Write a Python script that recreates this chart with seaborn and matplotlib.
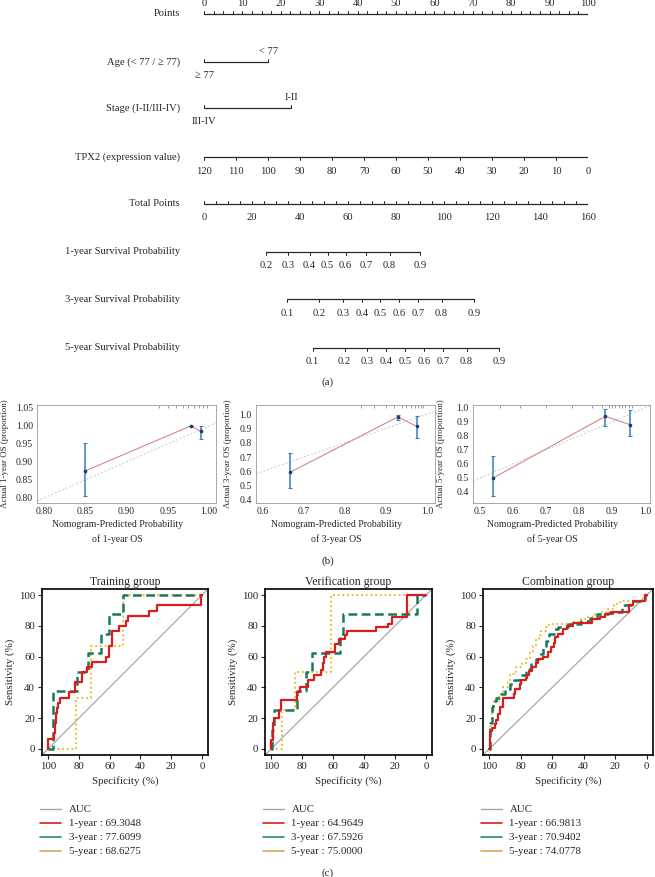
import numpy as np
import matplotlib.pyplot as plt
from matplotlib.lines import Line2D
import seaborn as sns

# ---------------- data ----------------
# (a) nomogram
points_ticks = list(range(0, 101, 10))
age_labels = ["≥ 77", "< 77"]
age_points = [0, 16.7]
stage_labels = ["III-IV", "I-II"]
stage_points = [0, 22.7]
tpx2_ticks = list(range(120, -1, -10))
total_ticks = list(range(0, 161, 20))
surv1_labels = ["0.2", "0.3", "0.4", "0.5", "0.6", "0.7", "0.8", "0.9"]
surv1_total = [26, 35, 44, 51.5, 59, 67.4, 77.3, 90.2]
surv3_labels = ["0.1", "0.2", "0.3", "0.4", "0.5", "0.6", "0.7", "0.8", "0.9"]
surv3_total = [34.7, 48, 57.8, 65.8, 73.4, 81.3, 89.1, 99, 112.5]
surv5_labels = ["0.1", "0.2", "0.3", "0.4", "0.5", "0.6", "0.7", "0.8", "0.9"]
surv5_total = [45.3, 58.6, 68, 76, 83.8, 91.7, 99.7, 109.4, 122.9]

# (b) calibration
cal1_pred = [0.85, 0.978, 0.99]
cal1_obs = [0.875, 1.0, 0.985]
cal1_lo = [0.805, 1.0, 0.963]
cal1_hi = [0.952, 1.0, 1.0]
cal1_rug = [0.94, 0.95, 0.96, 0.968, 0.975, 0.982, 0.988, 0.993, 0.997]

cal3_pred = [0.667, 0.929, 0.975]
cal3_obs = [0.595, 0.98, 0.913]
cal3_lo = [0.485, 0.96, 0.83]
cal3_hi = [0.73, 0.995, 0.986]
cal3_rug = [0.84, 0.87, 0.9, 0.92, 0.94, 0.95, 0.96, 0.97, 0.978, 0.985, 0.99]

cal5_pred = [0.54, 0.88, 0.955]
cal5_obs = [0.5, 0.94, 0.88]
cal5_lo = [0.37, 0.87, 0.8]
cal5_hi = [0.655, 0.995, 0.985]
cal5_rug = [0.56, 0.62, 0.7, 0.78, 0.84, 0.87, 0.89, 0.9, 0.91, 0.92, 0.93, 0.94, 0.95, 0.96]

# (c) ROC curves (specificity %, sensitivity %), step vertices
tr1_spec = [100, 99.8, 96.2, 95.6, 95, 94.2, 93.3, 92, 86.2, 82.3, 78.1, 74.9, 71.7, 62.1, 60.6,
            58.3, 53.6, 49.4, 48.3, 34.5, 29.1, 0.4, 0]
tr1_sens = [0, 6.7, 10, 16.7, 23.3, 26.7, 30, 33.3, 36.7, 43.3, 50, 53.3, 56.7, 60, 66.7,
            76.7, 80, 83.3, 86.7, 90, 93.3, 100, 100]
tr3_spec = [100, 96.6, 81.3, 73.8, 65.3, 60.6, 51.5, 0]
tr3_sens = [0, 37.5, 50, 62.5, 75, 87.5, 100, 100]
tr5_spec = [100, 81.7, 72, 51.5, 0]
tr5_sens = [0, 33.3, 66.7, 100, 100]

ve1_spec = [100, 99.9, 99, 98.7, 98, 95, 93.5, 83.2, 81.5, 76.3, 72.5, 68, 66.5, 65.6, 64.3,
            58.5, 56.3, 52, 51, 32, 24.7, 22, 12.3, 0]
ve1_sens = [0, 5.6, 11, 17, 20, 25, 31.7, 37, 40, 45, 48, 51.5, 56, 60, 63,
            68, 71.5, 74, 77, 79, 81.5, 86, 100, 100]
ve3_spec = [100, 99.5, 98, 83.2, 77.2, 73.5, 55.7, 53.5, 5.4, 0]
ve3_sens = [0, 12.5, 25, 37.5, 50, 62.5, 75, 87.5, 100, 100]
ve5_spec = [100, 93, 84.7, 61, 0]
ve5_sens = [0, 25, 50, 100, 100]

co1_spec = [100, 99.6, 98.5, 96.3, 95.7, 94.2, 93.1, 91.4, 84.5, 83.9, 80.2, 79.8, 77, 76.3,
            74.8, 72.7, 70.5, 68.8, 66.2, 63, 60.9, 59.1, 58.3, 56.1, 53.3, 50.5, 46.9, 34.6,
            29.7, 26.5, 22.6, 11, 8.8, 1.3, 0]
co1_sens = [0, 11.4, 13.5, 16, 19, 23, 27.5, 33, 36, 39, 42, 44.6, 46, 48,
            50.6, 53, 56, 58.6, 60, 63, 66, 69, 72.5, 75, 78, 80, 82, 84.3,
            86, 87.5, 89, 93.5, 96, 100, 100]
co3_spec = [100, 99.6, 98.5, 97.5, 95.5, 93, 90, 87, 84.5, 80.2, 77, 73.8, 70.5, 68.4, 66.2,
            64, 62, 58.7, 56.6, 50, 41.5, 36, 31.8, 24.3, 20, 15.7, 9.2, 1.3, 0]
co3_sens = [0, 17, 27.5, 31, 33, 36, 39, 42, 44.6, 48, 52, 55, 58.6, 61.8, 66,
            70.4, 74.7, 78, 79, 81.5, 83.3, 85.4, 87.5, 88.6, 89.3, 93.5, 96.5, 100, 100]
co5_spec = [100, 99.4, 98.5, 97, 94, 91, 88, 86.7, 83, 79, 77, 74, 72, 70.5, 68.5, 67.3, 64,
            62, 56.6, 46, 42, 37, 33, 29.7, 25, 21, 19, 16, 1.5, 0]
co5_sens = [0, 15, 25, 31, 36, 40.5, 44.6, 49, 53, 56, 58.6, 63, 67, 71.5, 74, 76.8, 79,
            81, 81.5, 82.5, 84.3, 86, 87.5, 89, 91, 93.5, 95.7, 96.5, 100, 100]

roc_titles = ["Training group", "Verification group", "Combination group"]
auc_1y = ["69.3048", "64.9649", "66.9813"]
auc_3y = ["77.6099", "67.5926", "70.9402"]
auc_5y = ["68.6275", "75.0000", "74.0778"]

# ---------------- style ----------------
sns.set_style("white")
plt.rcParams['font.family'] = ['Liberation Serif', 'DejaVu Serif']
plt.rcParams['axes.unicode_minus'] = False

W, H = 655, 877
fig = plt.figure(figsize=(W / 100, H / 100), dpi=100)


def px_axes(left, top, right, bottom):
    return fig.add_axes([left / W, 1 - bottom / H, (right - left) / W, (bottom - top) / H])


ink = "#262626"
fs = 7.6

# ---------------- (a) nomogram ----------------
nom = px_axes(204, 0, 588, 390)
nom.set_xlim(0, 100)
nom.set_ylim(390, 0)
nom.axis("off")

row_y = [14, 62, 108, 157, 204, 252, 299, 348]
row_names = ["Points", "Age (< 77 / ≥ 77)", "Stage (I-II/III-IV)", "TPX2 (expression value)",
             "Total Points", "1-year Survival Probability", "3-year Survival Probability",
             "5-year Survival Probability"]
for y, name in zip(row_y, row_names):
    nom.text(-6.3, y, name, ha="right", va="center", fontsize=fs, color=ink)


def scale_row(y, ticks, labels, minor=None, up=False, lab_dy=13):
    d = -3 if up else 3
    nom.plot([min(ticks), max(ticks)], [y, y], color=ink, lw=0.9)
    for t in (minor if minor is not None else ticks):
        nom.plot([t, t], [y, y + d], color=ink, lw=0.7)
    for t, lab in zip(ticks, labels):
        nom.text(t, y + (-lab_dy if up else lab_dy), lab, ha="center", va="center",
                 fontsize=fs, color=ink)


# Points
scale_row(row_y[0], points_ticks, [str(p) for p in points_ticks],
          minor=list(np.arange(0, 100.1, 2.5)), up=True, lab_dy=10)
# Age / Stage
for y, pts, labs in [(row_y[1], age_points, age_labels), (row_y[2], stage_points, stage_labels)]:
    nom.plot(pts, [y, y], color=ink, lw=0.9)
    for p in pts:
        nom.plot([p, p], [y, y - 3], color=ink, lw=0.7)
    nom.text(pts[1], y - 11, labs[1], ha="center", va="center", fontsize=fs, color=ink)
    nom.text(pts[0], y + 13, labs[0], ha="center", va="center", fontsize=fs, color=ink)
# TPX2
tpx2_pts = [(120 - v) * 100 / 120 for v in tpx2_ticks]
scale_row(row_y[3], tpx2_pts, [str(v) for v in tpx2_ticks], lab_dy=14)
# Total points
tot_pts = [v * 100 / 160 for v in total_ticks]
tot_minor = [v * 100 / 160 for v in range(0, 161, 5)]
scale_row(row_y[4], tot_pts, [str(v) for v in total_ticks], minor=tot_minor, up=True, lab_dy=-14)
# survival probabilities
for y, tot, labs in [(row_y[5], surv1_total, surv1_labels),
                     (row_y[6], surv3_total, surv3_labels),
                     (row_y[7], surv5_total, surv5_labels)]:
    scale_row(y, [v * 100 / 160 for v in tot], labs, lab_dy=14)

fig.text(328 / W, 1 - 382 / H, "(a)", ha="center", va="center", fontsize=8, color=ink)

# ---------------- (b) calibration ----------------
cal_panels = [
    (37, 216, cal1_pred, cal1_obs, cal1_lo, cal1_hi, cal1_rug, (0.7915, 1.0085), (0.786, 1.058),
     [0.80, 0.85, 0.90, 0.95, 1.00], [0.80, 0.85, 0.90, 0.95, 1.00, 1.05], "%.2f", "1", -0.158),
    (256, 435, cal3_pred, cal3_obs, cal3_lo, cal3_hi, cal3_rug, (0.583, 1.0195), (0.379, 1.063),
     [0.6, 0.7, 0.8, 0.9, 1.0], [0.4, 0.5, 0.6, 0.7, 0.8, 0.9, 1.0], "%.1f", "3", -0.135),
    (473, 650, cal5_pred, cal5_obs, cal5_lo, cal5_hi, cal5_rug, (0.479, 1.015), (0.321, 1.021),
     [0.5, 0.6, 0.7, 0.8, 0.9, 1.0], [0.4, 0.5, 0.6, 0.7, 0.8, 0.9, 1.0], "%.1f", "5", -0.16),
]
for (l, r, pred, obs, lo, hi, rug, xl, yl, xt, yt, fmt, yr, ylx) in cal_panels:
    ax = px_axes(l, 405, r, 503)
    ax.set_xlim(*xl)
    ax.set_ylim(*yl)
    ax.axline((0, 0), (1, 1), color="#c8c8c8", lw=0.7, ls=(0, (2, 2)))
    sns.lineplot(x=pred, y=obs, ax=ax, color="#d98585", lw=0.8, sort=False, estimator=None)
    pred_a, obs_a = np.array(pred), np.array(obs)
    ax.errorbar(pred_a, obs_a, yerr=[obs_a - np.array(lo), np.array(hi) - obs_a], fmt="o",
                ms=1.6, color="#1f3a6e", ecolor="#3b7fc4", elinewidth=1.1, capsize=1.6,
                capthick=0.8)
    ax.vlines(rug, 0.965, 1.0, transform=ax.get_xaxis_transform(), color="#777777", lw=0.5)
    ax.set_xticks(xt)
    ax.set_yticks(yt)
    ax.set_xticklabels([fmt % v for v in xt])
    ax.set_yticklabels([fmt % v for v in yt])
    ax.tick_params(labelsize=7, length=2, width=0.5, color="#777777", pad=1, labelcolor=ink)
    for s in ax.spines.values():
        s.set_color("#9a9a9a")
        s.set_linewidth(0.6)
    ax.set_ylabel(f"Actual {yr}-year OS (proportion)", fontsize=6.4, color=ink)
    ax.yaxis.set_label_coords(ylx, 0.5)
    ax.set_xlabel(f"Nomogram-Predicted Probability\nof {yr}-year OS", fontsize=7,
                  color=ink, linespacing=1.75)
    ax.xaxis.set_label_coords(0.45, -0.17)

fig.text(328 / W, 1 - 561 / H, "(b)", ha="center", va="center", fontsize=8, color=ink)

# ---------------- (c) ROC ----------------
c_red, c_green, c_yellow, c_grey = "#d91c1c", "#167a5f", "#efb510", "#a8a8a8"
roc_curves = [
    ((tr1_spec, tr1_sens), (tr3_spec, tr3_sens), (tr5_spec, tr5_sens)),
    ((ve1_spec, ve1_sens), (ve3_spec, ve3_sens), (ve5_spec, ve5_sens)),
    ((co1_spec, co1_sens), (co3_spec, co3_sens), (co5_spec, co5_sens)),
]
roc_lr = [(42, 208), (265, 432), (483, 653)]
for i, ((l, r), curves) in enumerate(zip(roc_lr, roc_curves)):
    ax = px_axes(l, 589, r, 755)
    ax.set_xlim(104, -4)
    ax.set_ylim(-4, 104)
    ax.axline((100, 0), (0, 100), color=c_grey, lw=0.9)
    (s1, e1), (s3, e3), (s5, e5) = curves
    sns.lineplot(x=s5, y=e5, ax=ax, color=c_yellow, lw=1.3, sort=False, estimator=None,
                 drawstyle="steps-post", linestyle=(0, (1, 1.6)))
    sns.lineplot(x=s3, y=e3, ax=ax, color=c_green, lw=1.8, sort=False, estimator=None,
                 drawstyle="steps-post", linestyle=(0, (3.5, 1.8)))
    sns.lineplot(x=s1, y=e1, ax=ax, color=c_red, lw=1.6, sort=False, estimator=None,
                 drawstyle="steps-post")
    ax.set_xticks([100, 80, 60, 40, 20, 0])
    ax.set_yticks([0, 20, 40, 60, 80, 100])
    ax.tick_params(labelsize=7.8, length=3, width=0.8, direction="out", left=True,
                   bottom=True, pad=2, labelcolor=ink)
    for s in ax.spines.values():
        s.set_color("black")
        s.set_linewidth(1.2)
    ax.set_title(roc_titles[i], fontsize=8.5, pad=3, color=ink)
    ax.set_xlabel("Specificity (%)", fontsize=7.8, color=ink, labelpad=4)
    ax.set_ylabel("Sensitivity (%)", fontsize=7.8, color=ink, labelpad=3)
    handles = [Line2D([], [], color=c_grey, lw=1.0),
               Line2D([], [], color=c_red, lw=1.2),
               Line2D([], [], color="#2a8a6e", lw=1.2),
               Line2D([], [], color="#d8a65c", lw=1.2)]
    labels = ["AUC", f"1-year : {auc_1y[i]}", f"3-year : {auc_3y[i]}",
              f"5-year : {auc_5y[i]}"]
    ax.legend(handles, labels, loc="upper left", bbox_to_anchor=(-0.01, -0.30),
              frameon=False, fontsize=7.8, handlelength=1.9, handletextpad=0.7,
              labelspacing=0.41, borderaxespad=0, borderpad=0)

fig.text(328 / W, 1 - 873 / H, "(c)", ha="center", va="center", fontsize=8, color=ink)

fig.savefig("out.png", dpi=100, facecolor="white")
